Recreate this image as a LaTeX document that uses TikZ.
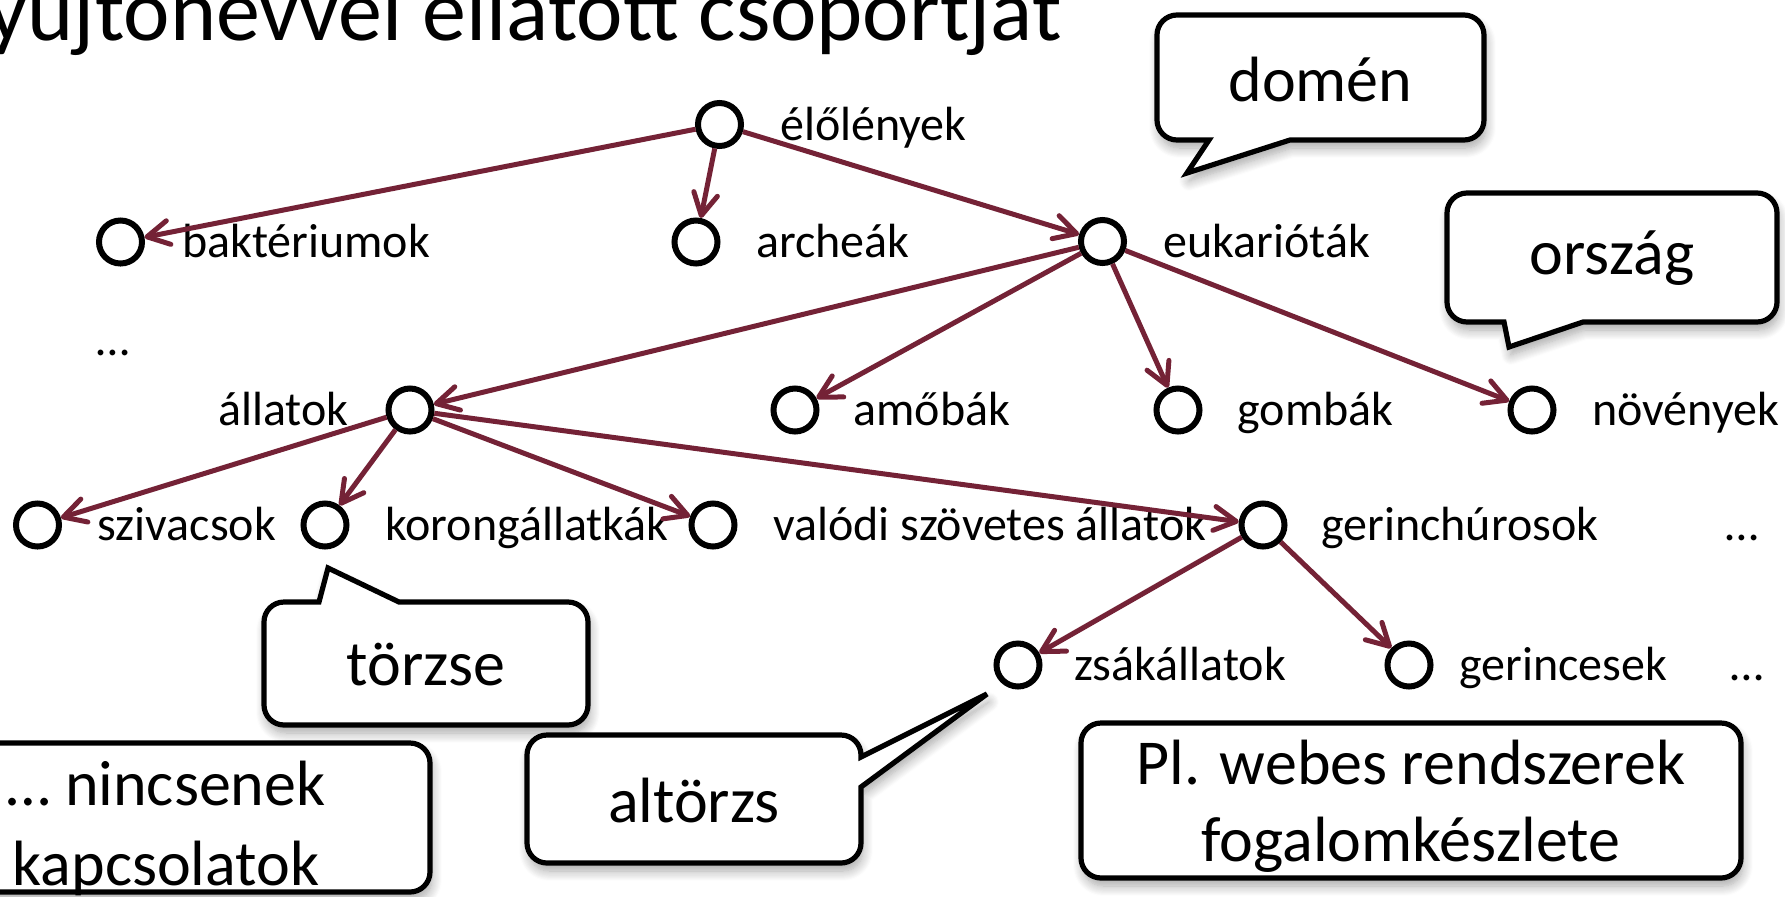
\documentclass[tikz,border=0pt]{standalone}
\usepackage{fontspec}
\setmainfont{Carlito}
\usetikzlibrary{arrows.meta,shadows.blur}
\definecolor{edgered}{RGB}{116,34,54}

\begin{document}
\begin{tikzpicture}[x=0.5pt,y=-0.5pt,
  concept/.style={circle,draw=black,line width=3pt,minimum size=21.5pt,inner sep=0pt,fill=white},
  lbl/.style={anchor=base west,inner sep=0pt,font=\fontsize{24}{28}\selectfont},
  lblleft/.style={lbl,anchor=base east},
  dots/.style={anchor=base,inner sep=0pt,font=\fontsize{24}{28}\selectfont},
  edge/.style={draw=edgered,line width=2.5pt,-{Straight Barb[length=11pt,width=12pt,round]}},
  callout/.style={draw=black,line width=2.6pt,fill=white,rounded corners=10pt,
    blur shadow={shadow xshift=1pt,shadow yshift=-4pt,shadow blur radius=5pt,shadow blur steps=10,shadow opacity=35}},
  calltext/.style={font=\fontsize{32}{38.5}\selectfont,align=center,inner sep=0pt}
]
\useasboundingbox (0,0) rectangle (1785,896);

% heading line, cut by the page edges
\node[anchor=base east,inner sep=0pt,font=\fontsize{44}{52}\selectfont] (title) at (1062,40) {gyűjtőnévvel ellátott csoportját};

% concept nodes
\node[concept] (life)     at (719.5,124.5) {};
\node[concept] (bakt)     at (120.5,242) {};
\node[concept] (arch)     at (696,242) {};
\node[concept] (euk)      at (1102.5,241.5) {};
\node[concept] (allat)    at (410,410) {};
\node[concept] (amoeb)    at (795,410) {};
\node[concept] (gomba)    at (1178,410) {};
\node[concept] (noveny)   at (1532,410) {};
\node[concept] (sziv)     at (37.5,525) {};
\node[concept] (korong)   at (325,525) {};
\node[concept] (valodi)   at (713,525) {};
\node[concept] (gerinch)  at (1263,525) {};
\node[concept] (zsak)     at (1018,665) {};
\node[concept] (gerinces) at (1409,665) {};

% concept labels
\node[lbl] (lifeL)     at (780,140)  {élőlények};
\node[lbl] (baktL)     at (182,257)  {baktériumok};
\node[lbl] (archL)     at (756,257)  {archeák};
\node[lbl] (eukL)      at (1163,257) {eukarióták};
\node[lblleft] (allatL) at (349,425) {állatok};
\node[lbl] (amoebL)    at (853,425)  {amőbák};
\node[lbl] (gombaL)    at (1237,425) {gombák};
\node[lbl] (novenyL)   at (1592,425) {növények};
\node[lbl] (szivL)     at (97,540)   {szivacsok};
\node[lbl] (korongL)   at (385,540)  {korongállatkák};
\node[lbl] (valodiL)   at (773,540)  {valódi szövetes állatok};
\node[lbl] (gerinchL)  at (1321,540) {gerinchúrosok};
\node[lbl] (zsakL)     at (1074,680) {zsákállatok};
\node[lbl] (gerincesL) at (1459,680) {gerincesek};

\node[dots] (dotsA) at (113,355)  {…};
\node[dots] (dotsB) at (1742,540) {…};
\node[dots] (dotsC) at (1747,680) {…};

% hierarchy
\draw[edge] (life) -- (bakt);
\draw[edge] (life) -- (arch);
\draw[edge] (life) -- (euk);
\draw[edge] (euk) -- (allat);
\draw[edge] (euk) -- (amoeb);
\draw[edge] (euk) -- (gomba);
\draw[edge] (euk) -- (noveny);
\draw[edge] (allat) -- (sziv);
\draw[edge] (allat) -- (korong);
\draw[edge] (allat) -- (valodi);
\draw[edge] (allat) -- (gerinch);
\draw[edge] (gerinch) -- (zsak);
\draw[edge] (gerinch) -- (gerinces);

% speech bubbles
\path[callout] (1157,78) -- (1157,15) -- (1484,15) -- (1484,140) [sharp corners] -- (1290,140) -- (1187,173) -- (1209,140) [rounded corners=10pt] -- (1157,140) -- cycle;
\node[calltext] (domen) at (1320.5,79) {domén};

\path[callout] (1447,258) -- (1447,193) -- (1777,193) -- (1777,322) [sharp corners] -- (1583,322) -- (1509,347) -- (1504,322) [rounded corners=10pt] -- (1447,322) -- cycle;
\node[calltext] (orszag) at (1612,258) {ország};

\path[callout] (426,725) -- (264,725) -- (264,602) [sharp corners] -- (319,602) -- (328,568) -- (399,602) [rounded corners=10pt] -- (588,602) -- (588,725) -- cycle;
\node[calltext] (torzse) at (426,665) {törzse};

\path[callout] (694,863) -- (527,863) -- (527,735) -- (861,735) [sharp corners] -- (861,757) -- (987,694) -- (861,787) [rounded corners=10pt] -- (861,863) -- cycle;
\node[calltext] (altorzs) at (694,801) {altörzs};

% plain boxes
\path[callout] (-110,743) rectangle (430,892);
\node[calltext,font=\fontsize{32}{40}\selectfont] (nincs) at (166,828) {… nincsenek\\kapcsolatok};

\path[callout] (1081,723) rectangle (1741,878);
\node[calltext] (webes) at (1411,806) {Pl. webes rendszerek\\fogalomkészlete};
\end{tikzpicture}
\end{document}
